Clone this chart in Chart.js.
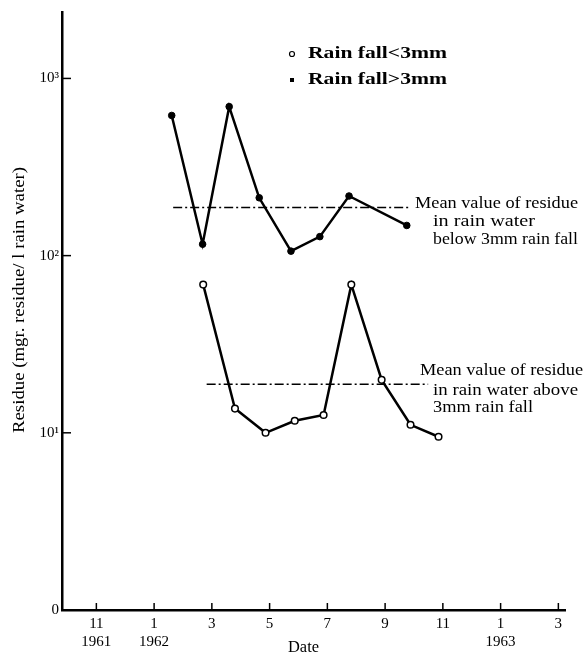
<!DOCTYPE html>
<html>
<head>
<meta charset="utf-8">
<script src="https://cdn.jsdelivr.net/npm/chart.js@4/dist/chart.umd.min.js"></script>
<style>
  body { margin: 0; background: #fff; }
  canvas { display: block; }
</style>
</head>
<body>
<canvas id="residueChart" width="585" height="655"></canvas>
<script>
// month index: 1 = Jan 1962, -1 = Nov 1961, 13 = Jan 1963
var monthsHigh = [1.61, 2.68, 3.60, 4.64, 5.74, 6.74, 7.75, 9.75];
var residueHigh = [618, 116, 693, 212, 106, 128, 217, 148];

var monthsLow = [2.70, 3.80, 4.86, 5.87, 6.87, 7.83, 8.88, 9.88, 10.85];
var residueLow = [68.6, 13.7, 10.0, 11.7, 12.6, 68.6, 19.9, 11.1, 9.5];

var meanHigh = 187;
var meanHighSpan = [1.66, 9.86];
var meanLow = 18.8;
var meanLowSpan = [2.82, 10.49];

var xTickValues = [-1, 1, 3, 5, 7, 9, 11, 13, 15];
var xTickLabels = [["11", "1961"], ["1", "1962"], ["3"], ["5"], ["7"], ["9"], ["11"], ["1", "1963"], ["3"]];
var yTickValues = [1, 10, 100, 1000];
var yTickLabels = ["0", "10\u00b9", "10\u00b2", "10\u00b3"];

var legendLabels = ["Rain fall<3mm", "Rain fall>3mm"];
var noteHigh = ["Mean value of residue", "in rain water", "below 3mm rain fall"];
var noteLow = ["Mean value of residue", "in rain water above", "3mm rain fall"];

function toPoints(xs, ys) {
  return xs.map(function (x, i) { return { x: x, y: ys[i] }; });
}

// draw text squeezed/stretched to a given width
function fitText(ctx, text, x, y, w, font, rotate) {
  ctx.save();
  ctx.font = font;
  var s = w / ctx.measureText(text).width;
  ctx.translate(x, y);
  if (rotate) ctx.rotate(-Math.PI / 2);
  ctx.scale(s, 1);
  ctx.textAlign = rotate ? "center" : "left";
  ctx.textBaseline = "middle";
  ctx.fillStyle = "#000";
  ctx.fillText(text, 0, 0);
  ctx.restore();
}

var serif = "16px 'Liberation Serif'";

var extras = {
  id: "extras",
  afterDraw: function (chart) {
    var ctx = chart.ctx;
    var xs = chart.scales.x, ys = chart.scales.y;
    var area = chart.chartArea;

    // inward tick marks
    ctx.save();
    ctx.strokeStyle = "#000";
    ctx.lineWidth = 1.5;
    xTickValues.forEach(function (v) {
      var px = xs.getPixelForValue(v);
      ctx.beginPath();
      ctx.moveTo(px, area.bottom);
      ctx.lineTo(px, area.bottom - 7);
      ctx.stroke();
    });
    yTickValues.forEach(function (v) {
      var py = ys.getPixelForValue(v);
      ctx.beginPath();
      ctx.moveTo(area.left, py);
      ctx.lineTo(area.left + 9, py);
      ctx.stroke();
    });
    ctx.restore();

    // legend
    ctx.save();
    ctx.lineWidth = 1.2;
    ctx.strokeStyle = "#000";
    ctx.fillStyle = "#fff";
    ctx.beginPath();
    ctx.arc(292, 54, 2.5, 0, Math.PI * 2);
    ctx.fill();
    ctx.stroke();
    ctx.fillStyle = "#000";
    ctx.fillRect(290, 78, 4, 4);
    ctx.restore();
    fitText(ctx, legendLabels[0], 308, 54, 139, "bold 16px 'Liberation Serif'");
    fitText(ctx, legendLabels[1], 308, 80, 139, "bold 16px 'Liberation Serif'");

    // mean-line notes
    fitText(ctx, noteHigh[0], 415, 204, 163, serif);
    fitText(ctx, noteHigh[1], 433, 222, 102, serif);
    fitText(ctx, noteHigh[2], 433, 240, 145, serif);
    fitText(ctx, noteLow[0], 420, 371, 163, serif);
    fitText(ctx, noteLow[1], 433, 391, 145, serif);
    fitText(ctx, noteLow[2], 433, 408, 100, serif);

    // axis titles
    fitText(ctx, "Date", 288, 648, 31, serif);
    fitText(ctx, "Residue (mgr. residue/ l rain water)", 20, 300, 266, serif, true);
  }
};

var ctx = document.getElementById("residueChart").getContext("2d");
new Chart(ctx, {
  type: "line",
  data: {
    datasets: [
      {
        label: "Rain fall>3mm",
        data: toPoints(monthsHigh, residueHigh),
        borderColor: "#000",
        borderWidth: 2.5,
        pointRadius: 3.3,
        pointBackgroundColor: "#000",
        pointBorderColor: "#000",
        pointBorderWidth: 1,
        tension: 0,
      },
      {
        label: "Rain fall<3mm",
        data: toPoints(monthsLow, residueLow),
        borderColor: "#000",
        borderWidth: 2.5,
        pointRadius: 3.3,
        pointBackgroundColor: "#fff",
        pointBorderColor: "#000",
        pointBorderWidth: 1.5,
        tension: 0,
      },
      {
        label: "mean high",
        data: toPoints(meanHighSpan, [meanHigh, meanHigh]),
        borderColor: "#000",
        borderWidth: 1.6,
        borderDash: [9, 3, 2, 3],
        pointRadius: 0,
      },
      {
        label: "mean low",
        data: toPoints(meanLowSpan, [meanLow, meanLow]),
        borderColor: "#000",
        borderWidth: 1.6,
        borderDash: [9, 3, 2, 3],
        pointRadius: 0,
      },
    ],
  },
  options: {
    responsive: false,
    animation: false,
    layout: { padding: { top: 8, right: 20, left: 0, bottom: 0 } },
    plugins: { legend: { display: false }, tooltip: { enabled: false } },
    scales: {
      x: {
        type: "linear",
        min: -2.19,
        max: 15.23,
        afterFit: function (s) { s.height = 45; },
        afterBuildTicks: function (s) {
          s.ticks = xTickValues.map(function (v) { return { value: v }; });
        },
        border: { display: true, color: "#000", width: 2.5 },
        grid: { drawOnChartArea: false, drawTicks: false },
        ticks: {
          autoSkip: false,
          maxRotation: 0,
          padding: 5,
          color: "#000",
          font: { family: "'Liberation Serif'", size: 15, lineHeight: 1.2 },
          callback: function (v) {
            var i = xTickValues.indexOf(v);
            return i >= 0 ? xTickLabels[i] : "";
          },
        },
      },
      y: {
        type: "logarithmic",
        min: 1,
        max: 2371,
        afterFit: function (s) { s.width = 62; },
        afterBuildTicks: function (s) {
          s.ticks = yTickValues.map(function (v) { return { value: v }; });
        },
        border: { display: true, color: "#000", width: 2.5 },
        grid: { drawOnChartArea: false, drawTicks: false },
        ticks: {
          autoSkip: false,
          padding: 3,
          color: "#000",
          font: { family: "'Liberation Serif'", size: 15 },
          callback: function (v) {
            var i = yTickValues.indexOf(v);
            return i >= 0 ? yTickLabels[i] : "";
          },
        },
      },
    },
  },
  plugins: [extras],
});
</script>
</body>
</html>
